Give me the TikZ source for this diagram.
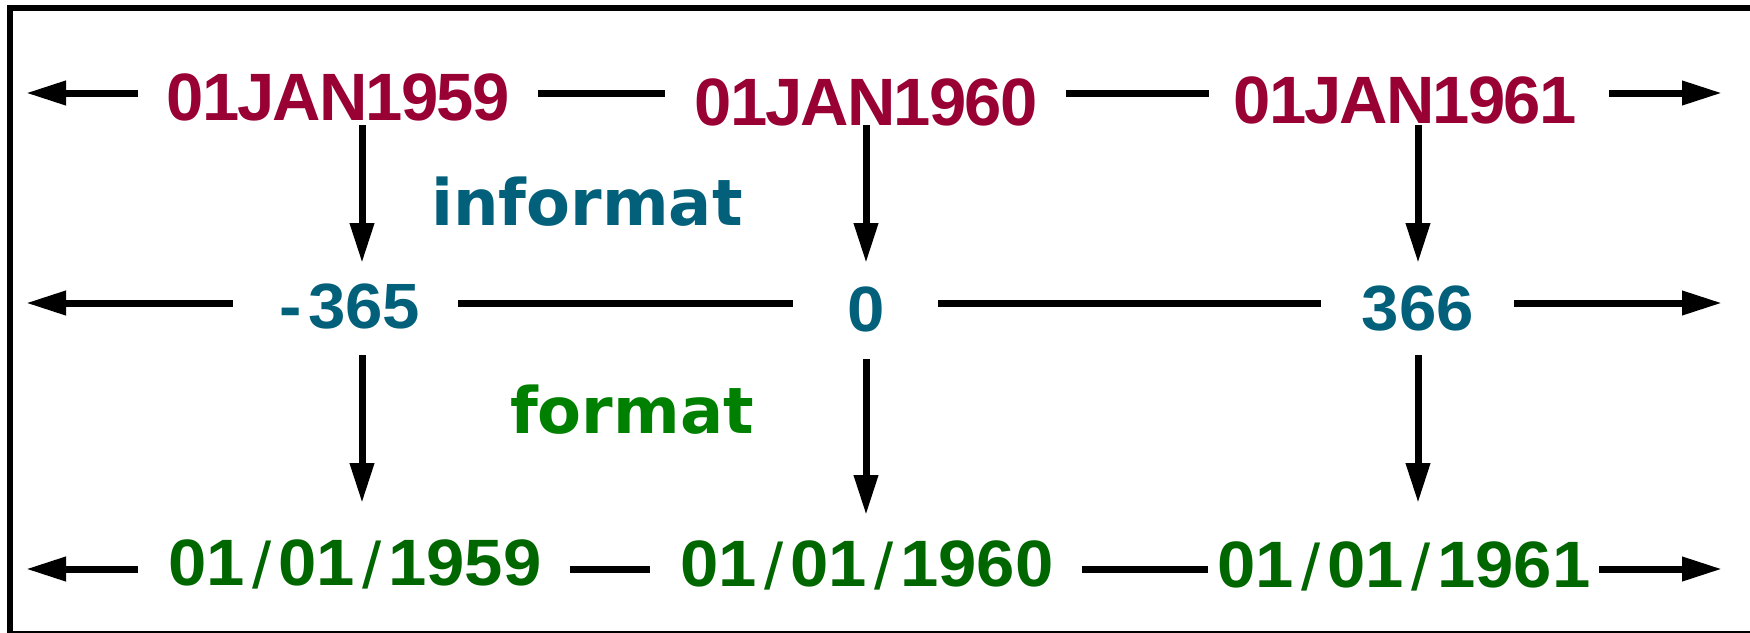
\documentclass[tikz,border=0pt]{standalone}
\usepackage{fontspec}
\usetikzlibrary{arrows.meta}
\newfontfamily\fontA[LetterSpace=-2.8]{Liberation Sans}
\newfontfamily\fontB[FakeStretch=1.05]{Liberation Sans}
\newfontfamily\fontC[FakeStretch=1.05]{Liberation Sans}
\newfontfamily\fontL{DejaVu Sans}
\definecolor{crim}{RGB}{153,0,51}
\definecolor{tealb}{RGB}{3,96,122}
\definecolor{dgreen}{RGB}{0,102,0}
\definecolor{lgreen}{RGB}{0,128,0}
\newcommand{\myslash}{\kern7pt\lower3pt\hbox{\mdseries/}\kern7pt}
\begin{document}
\begin{tikzpicture}[x=1pt,y=-1pt,
  conn/.style={line width=7pt},
  arr/.style={line width=7pt,-{Triangle[length=40pt,width=23pt]}},
  txt/.style={anchor=base,inner sep=0pt},
  rowa/.style={txt,text=crim,font=\fontA\bfseries\fontsize{67}{67}\selectfont},
  rowb/.style={txt,text=tealb,font=\fontB\bfseries\fontsize{64}{64}\selectfont},
  rowc/.style={txt,text=dgreen,font=\fontC\bfseries\fontsize{65.6}{66}\selectfont},
  lab/.style={txt,font=\fontL\bfseries\fontsize{64}{64}\selectfont}]
\useasboundingbox (0,0) rectangle (1750,632);
\draw[line width=6pt] (10,8) rectangle (1765,634);
% texts
\node[rowa] (a1) at (338,120) {01JAN1959};
\node[rowa] (a2) at (866,125) {01JAN1960};
\node[rowa] (a3) at (1405,123) {01JAN1961};
\node[rowb] (b1) at (350,328) {-\kern6pt365};
\node[rowb] (b2) at (866,331) {0};
\node[rowb] (b3) at (1418,330) {366};
\node[rowc] (c1) at (355,585) {01\myslash01\myslash1959};
\node[rowc] (c2) at (867,586) {01\myslash01\myslash1960};
\node[rowc] (c3) at (1404,587) {01\myslash01\myslash1961};
\node[lab,text=tealb] (inf) at (587,225) {informat};
\node[lab,text=lgreen] (fmt) at (632,433) {format};
% line end coordinates
\coordinate (a0l) at (26,93);   \coordinate (a0r) at (138,93);
\coordinate (a12l) at (538,93); \coordinate (a12r) at (665,93);
\coordinate (a23l) at (1066,93);\coordinate (a23r) at (1209,93);
\coordinate (a4l) at (1609,93); \coordinate (a4r) at (1722,93);
\coordinate (b0l) at (26,303);  \coordinate (b0r) at (233,303);
\coordinate (b12l) at (458,303);\coordinate (b12r) at (793,303);
\coordinate (b23l) at (938,303);\coordinate (b23r) at (1321,303);
\coordinate (b4l) at (1514,303);\coordinate (b4r) at (1722,303);
\coordinate (c0l) at (26,569);  \coordinate (c0r) at (138,569);
\coordinate (c12l) at (570,569);\coordinate (c12r) at (650,569);
\coordinate (c23l) at (1082,569);\coordinate (c23r) at (1208,569);
\coordinate (c4l) at (1599,569);\coordinate (c4r) at (1722,569);
\coordinate (v1t) at (362,125); \coordinate (v1b) at (362,263);
\coordinate (v2t) at (866,125); \coordinate (v2b) at (866,263);
\coordinate (v3t) at (1418,125);\coordinate (v3b) at (1418,263);
\coordinate (w1t) at (362,355); \coordinate (w1b) at (362,503);
\coordinate (w2t) at (866,359); \coordinate (w2b) at (866,515);
\coordinate (w3t) at (1418,355);\coordinate (w3b) at (1418,503);
% horizontal lines
\draw[arr] (a0r) -- (a0l);
\draw[conn] (a12l) -- (a12r);
\draw[conn] (a23l) -- (a23r);
\draw[arr] (a4l) -- (a4r);
\draw[arr] (b0r) -- (b0l);
\draw[conn] (b12l) -- (b12r);
\draw[conn] (b23l) -- (b23r);
\draw[arr] (b4l) -- (b4r);
\draw[arr] (c0r) -- (c0l);
\draw[conn] (c12l) -- (c12r);
\draw[conn] (c23l) -- (c23r);
\draw[arr] (c4l) -- (c4r);
% vertical arrows
\draw[arr] (v1t) -- (v1b);
\draw[arr] (v2t) -- (v2b);
\draw[arr] (v3t) -- (v3b);
\draw[arr] (w1t) -- (w1b);
\draw[arr] (w2t) -- (w2b);
\draw[arr] (w3t) -- (w3b);
\end{tikzpicture}
\end{document}
